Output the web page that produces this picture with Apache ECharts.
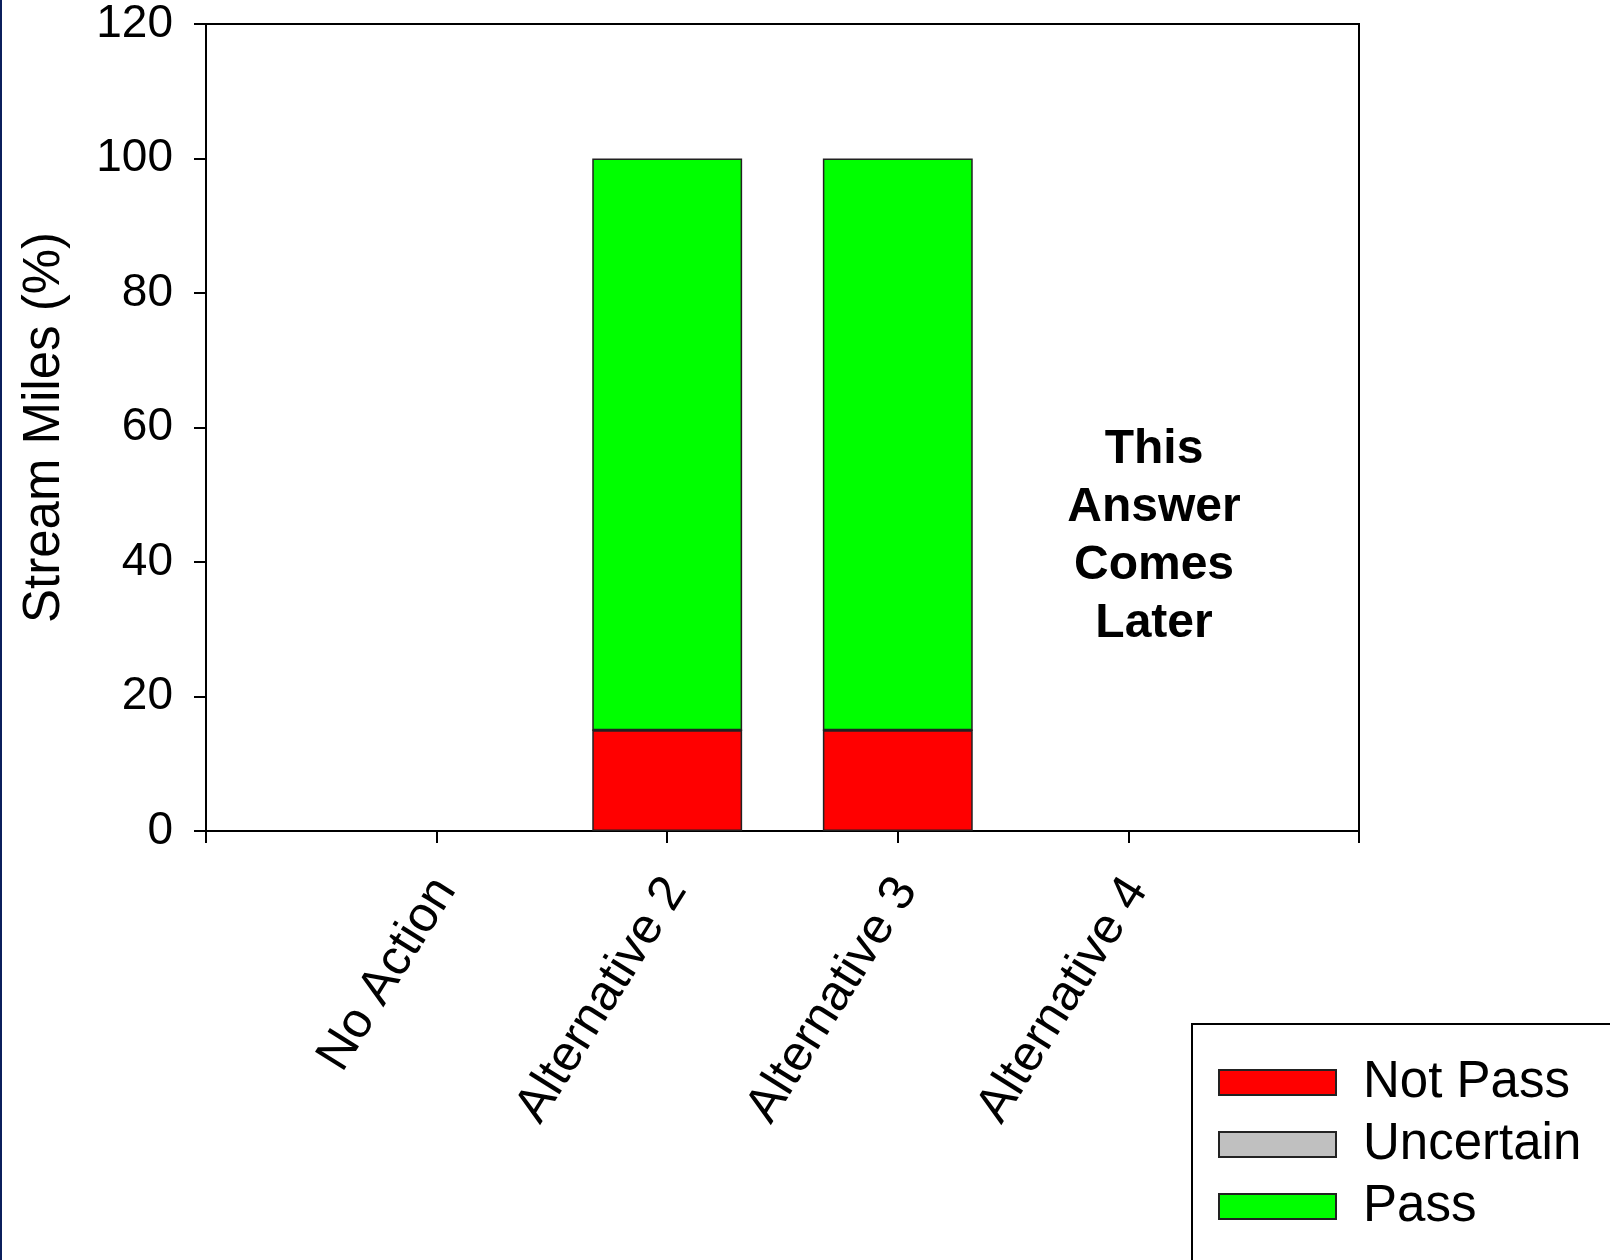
<!DOCTYPE html>
<html>
<head>
<meta charset="utf-8">
<script src="https://cdn.jsdelivr.net/npm/echarts@6/dist/echarts.min.js"></script>
<style>
  html, body { margin: 0; padding: 0; background: #ffffff; }
  #chart { width: 1610px; height: 1260px; }
</style>
</head>
<body>
<div id="chart"></div>
<script>
// Category slots: blank slots at each end give the outer tick marks
const categories = ['', 'No Action', 'Alternative 2', 'Alternative 3', 'Alternative 4', ''];

// Stream miles (%) by result class
const notPass   = ['-', '-', 15, 15, '-', '-'];
const uncertain = ['-', '-', 0, 0, '-', '-'];
const pass      = ['-', '-', 85, 85, '-', '-'];

const yTicks = { min: 0, max: 120, interval: 20 };

const FONT = '"Liberation Sans", Arial, Helvetica, sans-serif';
const barBorder = { borderColor: '#222222', borderWidth: 1.5 };

const chart = echarts.init(document.getElementById('chart'), null, { renderer: 'canvas' });

chart.setOption({
  backgroundColor: '#ffffff',
  animation: false,
  textStyle: { fontFamily: FONT, color: '#000' },
  grid: {
    left: 206, top: 24, right: 251, bottom: 429,
    show: true, borderColor: '#000', borderWidth: 2, backgroundColor: 'transparent'
  },
  legend: {
    left: 1192, top: 1024,
    width: 500, height: 400,
    orient: 'vertical',
    padding: [33, 80, 80, 26],
    borderColor: '#000', borderWidth: 2,
    itemWidth: 117, itemHeight: 25, itemGap: 11,
    icon: 'rect',
    textStyle: { fontFamily: FONT, fontSize: 51, color: '#000', padding: [0, 0, 0, 22] },
    data: ['Not Pass', 'Uncertain', 'Pass']
  },
  xAxis: {
    type: 'category',
    data: categories,
    boundaryGap: false,
    axisLine: { lineStyle: { color: '#000', width: 2 } },
    axisTick: { show: true, length: 12, interval: 0, lineStyle: { color: '#000', width: 2 } },
    axisLabel: {
      interval: 0, rotate: 58, margin: 46,
      verticalAlign: 'top', lineHeight: 20,
      fontFamily: FONT, fontSize: 50, color: '#000'
    },
    splitLine: { show: false }
  },
  yAxis: {
    type: 'value',
    min: yTicks.min, max: yTicks.max, interval: yTicks.interval,
    name: 'Stream Miles (%)',
    nameLocation: 'middle',
    nameGap: 136,
    nameTextStyle: { fontFamily: FONT, fontSize: 51, color: '#000' },
    axisLine: { show: true, lineStyle: { color: '#000', width: 2 } },
    axisTick: { show: true, length: 12, lineStyle: { color: '#000', width: 2 } },
    axisLabel: { margin: 33, fontFamily: FONT, fontSize: 46, color: '#000' },
    splitLine: { show: false }
  },
  series: [
    {
      name: 'Not Pass', type: 'bar', stack: 'miles', barWidth: '65%',
      itemStyle: Object.assign({ color: '#ff0000' }, barBorder),
      data: notPass
    },
    {
      name: 'Uncertain', type: 'bar', stack: 'miles', barWidth: '65%',
      itemStyle: Object.assign({ color: '#c0c0c0' }, barBorder),
      data: uncertain
    },
    {
      name: 'Pass', type: 'bar', stack: 'miles', barWidth: '65%',
      itemStyle: Object.assign({ color: '#00ff00' }, barBorder),
      data: pass
    }
  ],
  graphic: [
    {
      type: 'rect', left: 0, top: 0, z: 100,
      shape: { width: 2, height: 1260 },
      style: { fill: '#0b1f5c' }
    },
    {
      type: 'text', x: 1154, y: 421, z: 100,
      style: {
        text: 'This\nAnswer\nComes\nLater',
        font: 'bold 48px ' + FONT,
        fill: '#000',
        align: 'center',
        lineHeight: 58
      }
    }
  ]
});
</script>
</body>
</html>
